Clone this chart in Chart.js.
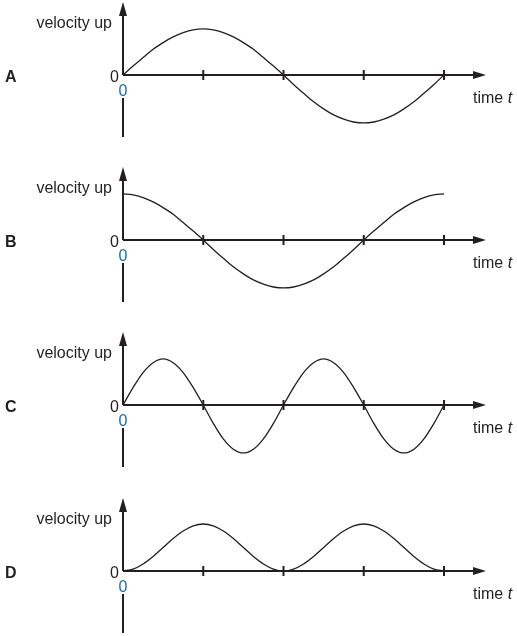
<!DOCTYPE html>
<html>
<head>
<meta charset="utf-8">
<script src="https://cdn.jsdelivr.net/npm/chart.js@4/dist/chart.umd.min.js"></script>
<style>
    html, body { margin: 0; padding: 0; background: #fff; overflow: hidden; }
    #wrap { position: relative; width: 517px; height: 636px; }
    #wrap canvas { position: absolute; left: 0; }
</style>
</head>
<body>
<div id="wrap">
    <canvas id="chart-a" width="517" height="165" style="top:0px"></canvas>
    <canvas id="chart-b" width="517" height="165" style="top:165px"></canvas>
    <canvas id="chart-c" width="517" height="165" style="top:330px"></canvas>
    <canvas id="chart-d" width="517" height="165" style="top:496px"></canvas>
</div>
<script>
// sample times, in tick units (4 ticks along the time axis)
const times = [0, 0.125, 0.25, 0.375, 0.5, 0.625, 0.75, 0.875,
    1, 1.125, 1.25, 1.375, 1.5, 1.625, 1.75, 1.875,
    2, 2.125, 2.25, 2.375, 2.5, 2.625, 2.75, 2.875,
    3, 3.125, 3.25, 3.375, 3.5, 3.625, 3.75, 3.875, 4];
const tickTimes = [1, 2, 3, 4];

// velocity readings (1 = peak height of the curves)
const velocityA = [0, .19, .37, .55, .69, .81, .90, .96, .98, .96, .90, .81, .69, .55, .37, .19,
    0, -.20, -.39, -.57, -.72, -.85, -.94, -1.00, -1.02, -1.00, -.94, -.85, -.72, -.57, -.39, -.20, 0];
const velocityB = [.98, .96, .90, .81, .69, .55, .37, .19, 0, -.20, -.39, -.57, -.72, -.85, -.94, -1.00,
    -1.02, -1.00, -.94, -.85, -.72, -.57, -.39, -.20, 0, .19, .37, .55, .69, .81, .90, .96, .98];
const velocityC = [0, .37, .69, .90, .98, .90, .69, .37, 0, -.39, -.72, -.94, -1.02, -.94, -.72, -.39,
    0, .37, .69, .90, .98, .90, .69, .37, 0, -.39, -.72, -.94, -1.02, -.94, -.72, -.39, 0];
const velocityD = [0, .04, .15, .31, .50, .69, .85, .96, 1, .96, .85, .69, .50, .31, .15, .04,
    0, .04, .15, .31, .50, .69, .85, .96, 1, .96, .85, .69, .50, .31, .15, .04, 0];

const panelLabels = ['A', 'B', 'C', 'D'];
const yAxisTitle = 'velocity up';
const xAxisTitle = 'time ';
const xAxisSymbol = 't';
const originLabel = '0';

const INK = '#231f20';
const BLUE = '#1b6cae';
const FONT = '"Liberation Sans", Arial, Helvetica, sans-serif';

// draws the arrowed axes, ticks and labels like the printed figure
const axesPlugin = {
    id: 'axesPlugin',
    afterDraw(chart, args, opts) {
        const ctx = chart.ctx;
        const xs = chart.scales.x;
        const ys = chart.scales.y;
        const ax = xs.getPixelForValue(0);
        const ay = ys.getPixelForValue(0);

        ctx.save();
        ctx.strokeStyle = INK;
        ctx.fillStyle = INK;
        ctx.lineWidth = 2;

        // vertical axis, upper part with arrow
        ctx.beginPath();
        ctx.moveTo(ax, ay);
        ctx.lineTo(ax, ay - 60);
        ctx.stroke();
        ctx.beginPath();
        ctx.moveTo(ax, ay - 73);
        ctx.lineTo(ax - 4, ay - 59);
        ctx.lineTo(ax + 4, ay - 59);
        ctx.closePath();
        ctx.fill();

        // vertical axis, lower part below the blue zero
        ctx.beginPath();
        ctx.moveTo(ax, ay + 23);
        ctx.lineTo(ax, ay + 62);
        ctx.stroke();

        // time axis with arrow
        const tip = xs.right + 42;
        ctx.beginPath();
        ctx.moveTo(ax, ay);
        ctx.lineTo(tip - 11, ay);
        ctx.stroke();
        ctx.beginPath();
        ctx.moveTo(tip, ay);
        ctx.lineTo(tip - 13, ay - 4);
        ctx.lineTo(tip - 13, ay + 4);
        ctx.closePath();
        ctx.fill();

        // ticks
        tickTimes.forEach(t => {
            const px = xs.getPixelForValue(t);
            ctx.beginPath();
            ctx.moveTo(px, ay - 5);
            ctx.lineTo(px, ay + 5);
            ctx.stroke();
        });

        // labels
        ctx.font = 'bold 16px ' + FONT;
        ctx.textAlign = 'left';
        ctx.textBaseline = 'alphabetic';
        ctx.fillText(opts.label, 5, ay + 7);

        ctx.font = '16px ' + FONT;
        ctx.textAlign = 'right';
        ctx.fillText(yAxisTitle, ax - 11, ay - 47);
        ctx.fillText(originLabel, ax - 4, ay + 7);

        ctx.textAlign = 'center';
        ctx.fillStyle = BLUE;
        ctx.fillText(originLabel, ax, ay + 21);

        ctx.fillStyle = INK;
        ctx.textAlign = 'left';
        const tx = xs.right + 29;
        ctx.fillText(xAxisTitle, tx, ay + 28);
        const w = ctx.measureText(xAxisTitle).width;
        ctx.font = 'italic 16px ' + FONT;
        ctx.fillText(xAxisSymbol, tx + w, ay + 28);

        ctx.restore();
    }
};

function makePanel(id, label, values) {
    const points = times.map((t, i) => ({ x: t, y: values[i] }));
    return new Chart(document.getElementById(id), {
        type: 'line',
        data: {
            datasets: [{
                data: points,
                borderColor: INK,
                borderWidth: 1.3,
                pointRadius: 0,
                cubicInterpolationMode: 'monotone',
                fill: false,
                clip: false
            }]
        },
        options: {
            responsive: false,
            animation: false,
            events: [],
            layout: {
                padding: { left: 123, right: 73, top: 4.5, bottom: 19.5 }
            },
            plugins: {
                legend: { display: false },
                tooltip: { enabled: false },
                axesPlugin: { label: label }
            },
            scales: {
                x: { type: 'linear', min: 0, max: 4, display: false },
                y: { type: 'linear', min: -1.5, max: 1.5, display: false }
            }
        },
        plugins: [axesPlugin]
    });
}

makePanel('chart-a', panelLabels[0], velocityA);
makePanel('chart-b', panelLabels[1], velocityB);
makePanel('chart-c', panelLabels[2], velocityC);
makePanel('chart-d', panelLabels[3], velocityD);
</script>
</body>
</html>
